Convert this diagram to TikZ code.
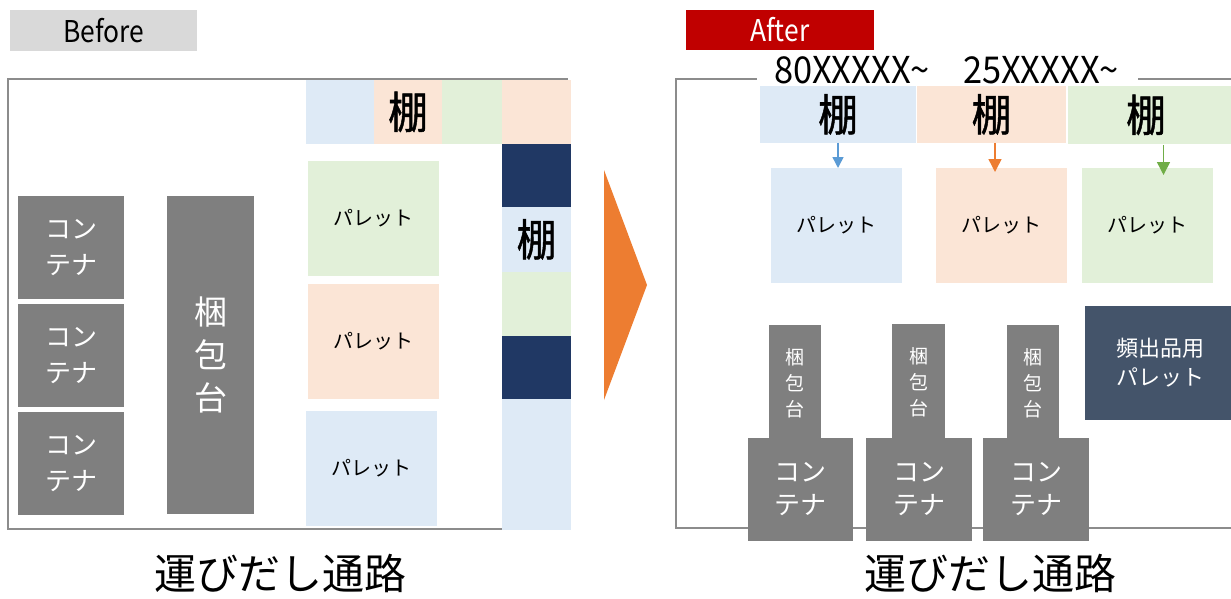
\documentclass[tikz,border=0pt]{standalone}
\usepackage{fontspec}
\setmainfont{Noto Sans CJK JP}
\newfontfamily\shelffont{Noto Sans CJK JP}[FakeBold=1.2]
\usetikzlibrary{arrows.meta,calc}
\definecolor{lb}{HTML}{DEEAF6}
\definecolor{pe}{HTML}{FBE5D6}
\definecolor{lg}{HTML}{E2F0D9}
\definecolor{nv}{HTML}{203864}
\definecolor{sl}{HTML}{44546A}
\definecolor{gr}{HTML}{7F7F7F}
\definecolor{fr}{HTML}{8C8C8C}
\definecolor{tagg}{HTML}{D9D9D9}
\definecolor{tagr}{HTML}{C00000}
\definecolor{org}{HTML}{ED7D31}
\definecolor{ablue}{HTML}{5B9BD5}
\definecolor{agreen}{HTML}{70AD47}
\newcommand{\tana}{\raisebox{4pt}{\scalebox{0.9}[1]{棚}}}
\begin{document}
\begin{tikzpicture}[x=1pt,y=-1pt,
  cell/.style={anchor=north west, inner sep=0pt, outer sep=0pt, draw=none, align=center},
  frame/.style={cell, draw=fr, line width=2.5pt},
  shelftxt/.style={font=\shelffont\fontsize{44}{44}\selectfont},
  paltxt/.style={font=\fontsize{20}{24}\selectfont},
  graybox/.style={cell, fill=gr, text=white},
  conttxt/.style={font=\fontsize{26}{36}\selectfont},
  arr/.style={line width=1.5pt, -{Triangle[width=13pt,length=13pt]}},
  bigtxt/.style={inner sep=0pt, font=\fontsize{42}{42}\selectfont},
  tagtxt/.style={font=\fontsize{30}{30}\selectfont},
  numtxt/.style={inner sep=0pt, font=\fontsize{37}{37}\selectfont}
]
\useasboundingbox (0,0) rectangle (1231,599);
% ---------------- BEFORE ----------------
\node[cell, fill=tagg, minimum width=187, minimum height=41, tagtxt] (beforetag) at (10,10) {\scalebox{0.88}[1]{Before}};
\node[frame, minimum width=559, minimum height=450] (bframe) at (8,79) {};
% top shelf row
\node[cell, fill=lb, minimum width=68, minimum height=64] (bt1) at (306,80) {};
\node[cell, fill=pe, minimum width=68, minimum height=64, shelftxt] (bt2) at (374,80) {\tana};
\node[cell, fill=lg, minimum width=60, minimum height=64] (bt3) at (442,80) {};
% right column
\node[cell, fill=pe, minimum width=69, minimum height=64] (br1) at (502,80) {};
\node[cell, fill=nv, minimum width=69, minimum height=63] (br2) at (502,144) {};
\node[cell, fill=lb, minimum width=69, minimum height=65, shelftxt] (br3) at (502,207) {\tana};
\node[cell, fill=lg, minimum width=69, minimum height=64] (br4) at (502,272) {};
\node[cell, fill=nv, minimum width=69, minimum height=63] (br5) at (502,336) {};
\node[cell, fill=lb, minimum width=69, minimum height=131] (br6) at (502,399) {};
% pallets
\node[cell, fill=lg, minimum width=131, minimum height=115, paltxt] (bp1) at (308,161) {パレット};
\node[cell, fill=pe, minimum width=131, minimum height=115, paltxt] (bp2) at (308,284) {パレット};
\node[cell, fill=lb, minimum width=131, minimum height=115, paltxt] (bp3) at (306,411) {パレット};
% containers
\node[graybox, minimum width=106, minimum height=103, conttxt] (bc1) at (18,196) {コン\\テナ};
\node[graybox, minimum width=106, minimum height=103, conttxt] (bc2) at (18,304) {コン\\テナ};
\node[graybox, minimum width=106, minimum height=103, conttxt] (bc3) at (18,412) {コン\\テナ};
\node[graybox, minimum width=87, minimum height=318, font=\fontsize{33}{43}\selectfont] (bk) at (167,196) {梱\\包\\台};
\node[bigtxt] (bpath) at (280,573) {運びだし通路};
% ---------------- ARROW ----------------
\fill[org] (604,170) -- (647,285) -- (604,400) -- cycle;
% ---------------- AFTER ----------------
\node[cell, fill=tagr, text=white, minimum width=188, minimum height=40, tagtxt] (aftertag) at (686,10) {\scalebox{0.88}[1]{After}};
\node[frame, minimum width=580, minimum height=449] (aframe) at (676,79) {};
\node[cell, fill=white, minimum width=381, minimum height=27] (lblbg) at (757,58) {};
\node[numtxt] (l1) at (852,70) {\scalebox{0.93}[1]{80XXXXX\textasciitilde}};
\node[numtxt] (l2) at (1041,70) {\scalebox{0.93}[1]{25XXXXX\textasciitilde}};
% shelves
\node[cell, fill=lb, minimum width=156, minimum height=57, shelftxt] (s1) at (760,86) {\tana};
\node[cell, fill=pe, minimum width=149, minimum height=57, shelftxt] (s2) at (917,86) {\tana};
\node[cell, fill=lg, minimum width=170, minimum height=58, shelftxt] (s3) at (1068,86) {\hspace*{-14pt}\tana};
% pallets
\node[cell, fill=lb, minimum width=131, minimum height=115, paltxt] (p1) at (771,168) {パレット};
\node[cell, fill=pe, minimum width=131, minimum height=115, paltxt] (p2) at (936,168) {パレット};
\node[cell, fill=lg, minimum width=131, minimum height=115, paltxt] (p3) at (1082,168) {パレット};
% arrows
\draw[ablue, line width=1.5pt, -{Triangle[width=11pt,length=11pt]}] (s1.south) -- (s1.south |- p1.north);
\draw[org, arr] ($(s2.south)+(3.5,0)$) -- ($(s2.south |- p2.north)+(3.5,4)$);
\draw[agreen, arr] ($(s3.south)+(10.5,1)$) -- ($(s3.south |- p3.north)+(10.5,7)$);
% frequent pallet
\node[cell, fill=sl, text=white, minimum width=150, minimum height=114, font=\fontsize{22}{29}\selectfont] (fp) at (1085,306) {頻出品用\\パレット};
% packing tables
\node[graybox, minimum width=52, minimum height=116, font=\fontsize{19}{26}\selectfont] (k1) at (769,325) {梱\\包\\台};
\node[graybox, minimum width=53, minimum height=116, font=\fontsize{19}{26}\selectfont] (k2) at (892,324) {梱\\包\\台};
\node[graybox, minimum width=52, minimum height=116, font=\fontsize{19}{26}\selectfont] (k3) at (1007,325) {梱\\包\\台};
% containers
\node[graybox, minimum width=105, minimum height=103, font=\fontsize{26}{33}\selectfont] (c1) at (748,438) {コン\\テナ};
\node[graybox, minimum width=106, minimum height=103, font=\fontsize{26}{33}\selectfont] (c2) at (866,438) {コン\\テナ};
\node[graybox, minimum width=106, minimum height=103, font=\fontsize{26}{33}\selectfont] (c3) at (983,438) {コン\\テナ};
\node[bigtxt] (apath) at (990,573) {運びだし通路};
\end{tikzpicture}
\end{document}
